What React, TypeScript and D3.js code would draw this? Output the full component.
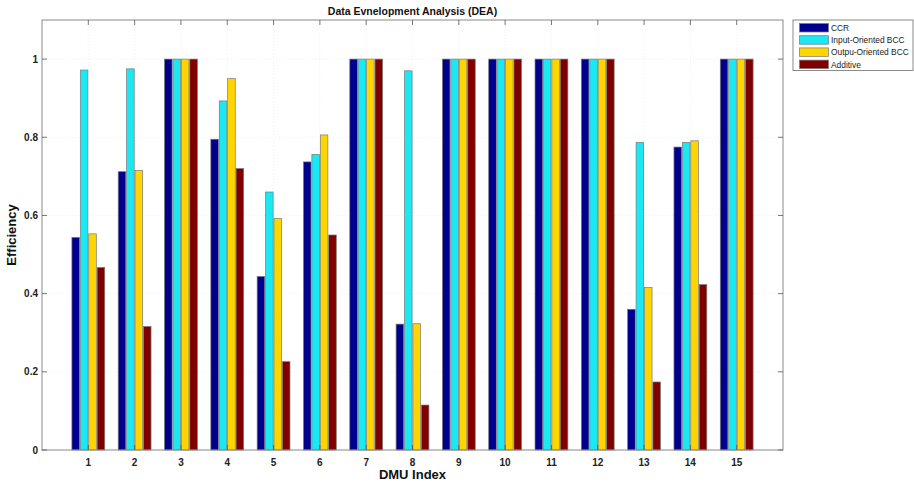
import React from "react";
import * as d3 from "d3";

const categories = ["1","2","3","4","5","6","7","8","9","10","11","12","13","14","15"];
const seriesNames = ["CCR", "Input-Oriented BCC", "Outpu-Oriented BCC", "Additive"];
const ccr = [0.544, 0.712, 1, 0.795, 0.444, 0.737, 1, 0.322, 1, 1, 1, 1, 0.36, 0.775, 1];
const inputBCC = [0.972, 0.975, 1, 0.893, 0.66, 0.756, 1, 0.97, 1, 1, 1, 1, 0.787, 0.787, 1];
const outputBCC = [0.553, 0.715, 1, 0.95, 0.592, 0.806, 1, 0.323, 1, 1, 1, 1, 0.416, 0.791, 1];
const additive = [0.467, 0.316, 1, 0.72, 0.226, 0.55, 1, 0.115, 1, 1, 1, 1, 0.174, 0.423, 1];
const yTicks = [0, 0.2, 0.4, 0.6, 0.8, 1];
const colors = ["#00008f", "#1ae8f2", "#ffd500", "#800000"];

const series = [ccr, inputBCC, outputBCC, additive];

export default function App() {
  const W = 914, H = 482;
  const left = 42, right = 783, top = 20, bottom = 450;
  const x = d3.scaleLinear().domain([0, 16]).range([left, right]);
  const y = d3.scaleLinear().domain([0, 1.1]).range([bottom, top]);
  const groupW = 0.727;
  const x1 = d3.scaleBand<number>().domain([0, 1, 2, 3]).range([-groupW / 2, groupW / 2]).paddingInner(0.1).paddingOuter(0.05);
  const font = "'Liberation Sans', Arial, sans-serif";
  const axisColor = "#8a8a8a";
  const gridColor = "#ececec";

  return (
    <div style={{ position: "absolute", left: 0, top: 0 }}>
      <svg width={W} height={H} style={{ display: "block", background: "#fff" }} fontFamily={font}>
        {/* grid */}
        {categories.map((c, i) => (
          <line key={"gx" + c} x1={x(i + 1)} x2={x(i + 1)} y1={top} y2={bottom} stroke={gridColor} strokeWidth={0.8} strokeDasharray="1,2" />
        ))}
        {yTicks.map((t) => (
          <line key={"gy" + t} x1={left} x2={right} y1={y(t)} y2={y(t)} stroke={gridColor} strokeWidth={0.8} strokeDasharray="1,2" />
        ))}
        {/* bars */}
        {series.map((vals, s) =>
          vals.map((v, i) => {
            const x0 = x(i + 1 + (x1(s) as number));
            const w = x(1 + x1.bandwidth()) - x(1);
            return (
              <rect key={s + "-" + i} x={x0} y={y(v)} width={w} height={y(0) - y(v)} fill={colors[s]} stroke="#7a7a7a" strokeWidth={0.7} />
            );
          })
        )}
        {/* axes box */}
        <rect x={left} y={top} width={right - left} height={bottom - top} fill="none" stroke={axisColor} strokeWidth={1} />
        {/* x ticks */}
        {categories.map((c, i) => (
          <g key={"xt" + c}>
            <line x1={x(i + 1)} x2={x(i + 1)} y1={bottom} y2={bottom - 5} stroke="#555" strokeWidth={0.8} />
            <line x1={x(i + 1)} x2={x(i + 1)} y1={top} y2={top + 5} stroke="#555" strokeWidth={0.8} />
            <text x={x(i + 1)} y={466} textAnchor="middle" fontSize={10} fontWeight="bold" fill="#222">{c}</text>
          </g>
        ))}
        {/* y ticks */}
        {yTicks.map((t) => (
          <g key={"yt" + t}>
            <line x1={left} x2={left + 5} y1={y(t)} y2={y(t)} stroke="#555" strokeWidth={0.8} />
            <line x1={right} x2={right - 5} y1={y(t)} y2={y(t)} stroke="#555" strokeWidth={0.8} />
            <text x={38} y={y(t) + 3.5} textAnchor="end" fontSize={10} fontWeight="bold" fill="#222">{d3.format("~g")(t)}</text>
          </g>
        ))}
        {/* title */}
        <text x={(left + right) / 2} y={15} textAnchor="middle" fontSize={10.5} fontWeight="bold" fill="#111">Data Evnelopment Analysis (DEA)</text>
        <text x={(left + right) / 2} y={479} textAnchor="middle" fontSize={13} fontWeight="bold" fill="#111">DMU Index</text>
        <text transform={`translate(16,${(top + bottom) / 2}) rotate(-90)`} textAnchor="middle" fontSize={13} fontWeight="bold" fill="#111">Efficiency</text>
        {/* legend */}
        <rect x={793} y={20} width={120} height={50.5} fill="#fff" stroke={axisColor} strokeWidth={1} />
        {seriesNames.map((n, s) => (
          <g key={n}>
            <rect x={799.5} y={23.5 + s * 12.2} width={29} height={8.5} fill={colors[s]} stroke="#7a7a7a" strokeWidth={0.7} />
            <text x={831} y={31 + s * 12.2} fontSize={8.4} fill="#222">{n}</text>
          </g>
        ))}
      </svg>
    </div>
  );
}
